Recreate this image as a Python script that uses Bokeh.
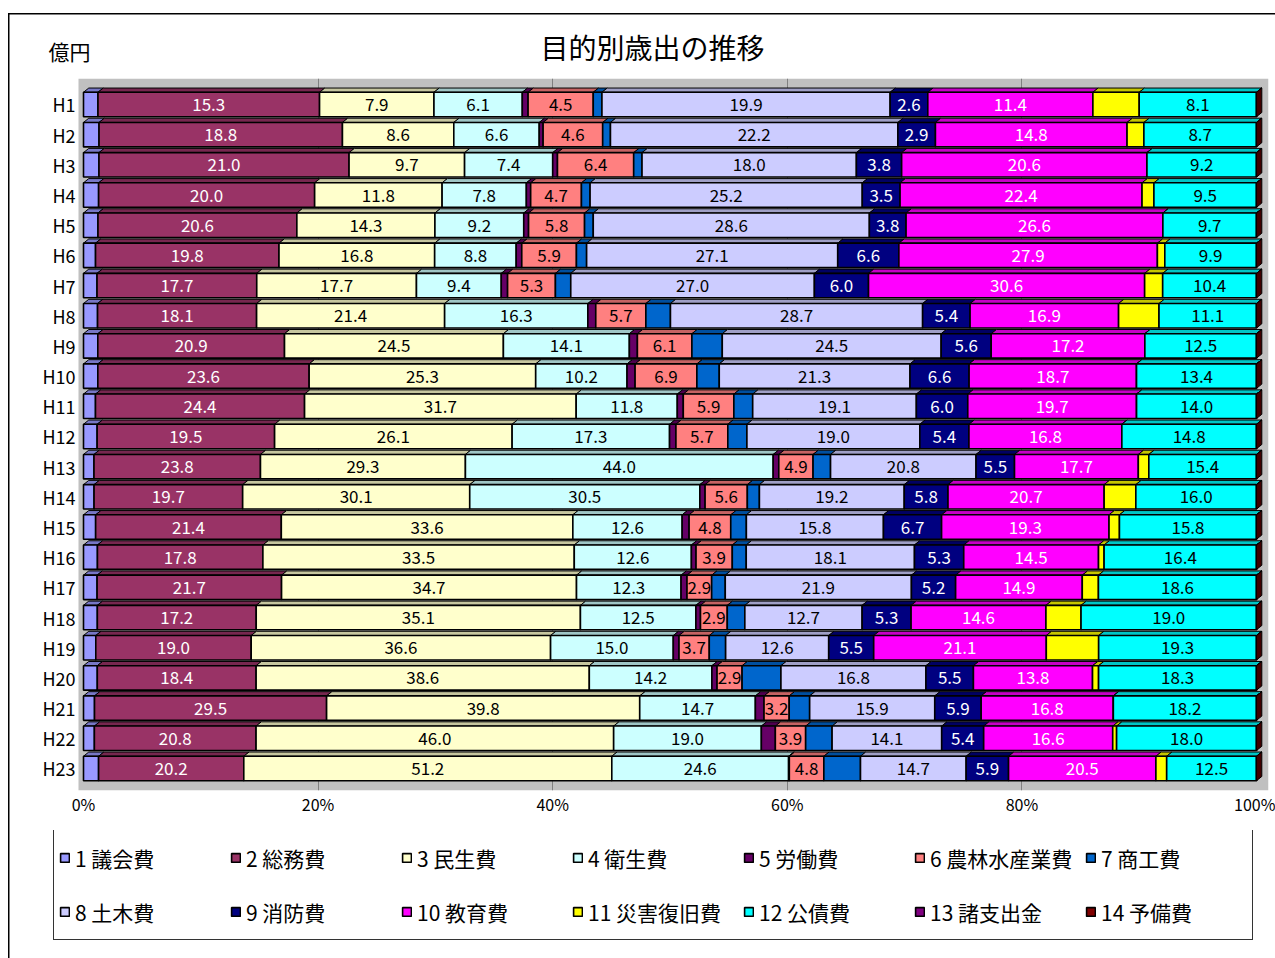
from bokeh.plotting import figure
from bokeh.layouts import column
from bokeh.models import (ColumnDataSource, Range1d, FixedTicker, Legend, LegendItem, BoxAnnotation)
from bokeh.core.properties import value
from bokeh.embed import file_html
from bokeh.resources import INLINE

FONT = "Noto Sans CJK JP"

years = ["H1", "H2", "H3", "H4", "H5", "H6", "H7", "H8", "H9", "H10", "H11", "H12",
         "H13", "H14", "H15", "H16", "H17", "H18", "H19", "H20", "H21", "H22", "H23"]

names = ["1 議会費", "2 総務費", "3 民生費", "4 衛生費", "5 労働費", "6 農林水産業費", "7 商工費",
         "8 土木費", "9 消防費", "10 教育費", "11 災害復旧費", "12 公債費", "13 諸支出金", "14 予備費"]

colors = ["#9999FF", "#993366", "#FFFFCC", "#CCFFFF", "#660066", "#FF8080", "#0066CC",
          "#CCCCFF", "#000080", "#FF00FF", "#FFFF00", "#00FFFF", "#800080", "#800000"]

TITLE = "目的別歳出の推移"
UNIT = "億円"

# 目的別歳出（億円）
gikai = [1.0, 1.2, 1.3, 1.4, 1.5, 1.3, 1.5, 1.6, 1.6, 1.6, 1.4, 1.5, 1.5, 1.4, 1.4, 1.5, 1.6, 1.5, 1.5, 1.6, 1.4, 1.4, 2.1]
somu = [15.3, 18.8, 21.0, 20.0, 20.6, 19.8, 17.7, 18.1, 20.9, 23.6, 24.4, 19.5, 23.8, 19.7, 21.4, 17.8, 21.7, 17.2, 19.0, 18.4, 29.5, 20.8, 20.2]
minsei = [7.9, 8.6, 9.7, 11.8, 14.3, 16.8, 17.7, 21.4, 24.5, 25.3, 31.7, 26.1, 29.3, 30.1, 33.6, 33.5, 34.7, 35.1, 36.6, 38.6, 39.8, 46.0, 51.2]
eisei = [6.1, 6.6, 7.4, 7.8, 9.2, 8.8, 9.4, 16.3, 14.1, 10.2, 11.8, 17.3, 44.0, 30.5, 12.6, 12.6, 12.3, 12.5, 15.0, 14.2, 14.7, 19.0, 24.6]
rodo = [0.4, 0.3, 0.4, 0.4, 0.5, 0.6, 0.7, 0.9, 0.9, 0.9, 0.7, 0.7, 0.8, 0.7, 0.8, 0.5, 0.7, 0.5, 0.7, 0.6, 1.1, 1.8, 0.1]
norin = [4.5, 4.6, 6.4, 4.7, 5.8, 5.9, 5.3, 5.7, 6.1, 6.9, 5.9, 5.7, 4.9, 5.6, 4.8, 3.9, 2.9, 2.9, 3.7, 2.9, 3.2, 3.9, 4.8]
shoko = [0.6, 0.6, 0.7, 0.8, 0.9, 1.1, 1.7, 2.8, 3.4, 2.5, 2.2, 2.1, 2.5, 1.6, 1.8, 1.5, 1.6, 1.9, 2.0, 4.5, 2.6, 3.4, 5.1]
doboku = [19.9, 22.2, 18.0, 25.2, 28.6, 27.1, 27.0, 28.7, 24.5, 21.3, 19.1, 19.0, 20.8, 19.2, 15.8, 18.1, 21.9, 12.7, 12.6, 16.8, 15.9, 14.1, 14.7]
shobo = [2.6, 2.9, 3.8, 3.5, 3.8, 6.6, 6.0, 5.4, 5.6, 6.6, 6.0, 5.4, 5.5, 5.8, 6.7, 5.3, 5.2, 5.3, 5.5, 5.5, 5.9, 5.4, 5.9]
kyoiku = [11.4, 14.8, 20.6, 22.4, 26.6, 27.9, 30.6, 16.9, 17.2, 18.7, 19.7, 16.8, 17.7, 20.7, 19.3, 14.5, 14.9, 14.6, 21.1, 13.8, 16.8, 16.6, 20.5]
saigai = [3.2, 1.3, 0.0, 1.1, 0.0, 0.8, 2.0, 4.6, 0.0, 0.0, 0.0, 0.0, 1.5, 4.2, 1.2, 0.6, 1.9, 3.8, 6.4, 0.7, 0.0, 0.5, 1.5]
kosai = [8.1, 8.7, 9.2, 9.5, 9.7, 9.9, 10.4, 11.1, 12.5, 13.4, 14.0, 14.8, 15.4, 16.0, 15.8, 16.4, 18.6, 19.0, 19.3, 18.3, 18.2, 18.0, 12.5]
shoshishutsu = [0.0] * 23
yobi = [0.0] * 23

series = [gikai, somu, minsei, eisei, rodo, norin, shoko,
          doboku, shobo, kyoiku, saigai, kosai, shoshishutsu, yobi]

# series that carry a value label, and the label colour on each
labelled = {1: "white", 2: "black", 3: "black", 5: "black", 7: "black",
            8: "white", 9: "white", 11: "black"}

n = len(years)
rows = list(range(n))
totals = [sum(s[i] for s in series) for i in rows]

BAR_H = 0.81          # front face height (row units)
DX, DY = 0.45, 0.14   # depth offset of the top / side faces
WALL_LEFT = -0.426    # left edge of the grey wall, in percent units
LEFT_BORDER = 53      # shared left border of the three stacked figures


def darker(hex_color, f=0.78):
    r, g, b = (int(hex_color[i:i + 2], 16) for i in (1, 3, 5))
    return "#%02x%02x%02x" % (int(r * f), int(g * f), int(b * f))


def bare(fig):
    fig.grid.visible = False
    fig.outline_line_color = None
    fig.border_fill_color = None
    fig.background_fill_color = None


# ---- heading strip: title and unit ----
head = figure(width=1275, height=78, x_range=Range1d(LEFT_BORDER, 1268), y_range=Range1d(78, 0),
              output_backend="svg", toolbar_location=None, title=None,
              min_border_left=LEFT_BORDER, min_border_right=7, min_border_top=0, min_border_bottom=0)
bare(head)
head.xaxis.visible = False
head.yaxis.ticker = FixedTicker(ticks=[50])
head.yaxis.major_label_overrides = {50: UNIT}
head.yaxis.axis_line_color = None
head.yaxis.major_tick_line_color = None
head.yaxis.major_tick_out = 0
head.yaxis.major_tick_in = 0
head.yaxis.minor_tick_line_color = None
head.yaxis.major_label_standoff = -37
head.yaxis.major_label_text_font = FONT
head.yaxis.major_label_text_font_size = "21px"
head.yaxis.major_label_text_color = "black"
head.text(x=[652], y=[46], text=[TITLE], text_align="center", text_baseline="middle",
          text_font=value(FONT), text_font_size="28px", text_color="black")

# ---- main chart ----
px_per_pct = 11.73
x_start = -(83 - LEFT_BORDER) / px_per_pct
p = figure(width=1275, height=752,
           x_range=Range1d(x_start, 101.02), y_range=Range1d(22.73, -0.861),
           output_backend="svg", toolbar_location=None, title=None,
           min_border_left=LEFT_BORDER, min_border_right=7, min_border_top=0, min_border_bottom=40)

p.background_fill_color = None
p.border_fill_color = None
p.outline_line_color = None
# grey back wall and floor, painted beneath the grid lines
p.add_layout(BoxAnnotation(left=WALL_LEFT, fill_color="#C0C0C0", fill_alpha=1,
                           line_color=None, level="image"))

cum = [0.0] * n
label_specs = []
for k, s in enumerate(series):
    pct = [s[i] / totals[i] * 100 for i in rows]
    left = cum[:]
    right = [left[i] + pct[i] for i in rows]
    cum = right
    top_y = [r - BAR_H / 2 for r in rows]
    xs = [[left[i], right[i], right[i] + DX, left[i] + DX] for i in rows]
    ys = [[top_y[i], top_y[i], top_y[i] - DY, top_y[i] - DY] for i in rows]
    src = ColumnDataSource(dict(y=rows, left=left, right=right, xs=xs, ys=ys,
                                mid=[(left[i] + right[i]) / 2 for i in rows],
                                txt=["%.1f" % v for v in s]))
    p.patches("xs", "ys", source=src, fill_color=darker(colors[k]),
              line_color="black", line_width=1)
    p.hbar(y="y", left="left", right="right", height=BAR_H, source=src,
           fill_color=colors[k], line_color="black", line_width=1.6)
    if k in labelled:
        label_specs.append((src, labelled[k]))

# right-hand side face of each bar
side_src = ColumnDataSource(dict(
    xs=[[cum[i], cum[i] + DX, cum[i] + DX, cum[i]] for i in rows],
    ys=[[r - BAR_H / 2, r - BAR_H / 2 - DY, r + BAR_H / 2 - DY, r + BAR_H / 2] for r in rows]))
p.patches("xs", "ys", source=side_src, fill_color=darker(colors[-1], 0.5),
          line_color="black", line_width=1)

for src, col in label_specs:
    p.text(x="mid", y="y", text="txt", source=src, text_align="center",
           text_baseline="middle", text_color=col, text_font=value(FONT),
           text_font_size="17px")

# axes
p.xaxis.ticker = FixedTicker(ticks=[0, 20, 40, 60, 80, 100])
p.xaxis.major_label_overrides = {t: "%d%%" % t for t in [0, 20, 40, 60, 80, 100]}
p.yaxis.ticker = FixedTicker(ticks=rows)
p.yaxis.major_label_overrides = {i: years[i] for i in rows}
for ax in (p.xaxis[0], p.yaxis[0]):
    ax.axis_line_color = None
    ax.major_tick_line_color = None
    ax.major_tick_out = 0
    ax.major_tick_in = 0
    ax.minor_tick_line_color = None
    ax.major_label_text_font = FONT
    ax.major_label_text_color = "black"
p.xaxis.major_label_text_font_size = "16px"
p.xaxis.major_label_standoff = 1
p.yaxis.major_label_text_font_size = "18px"
p.yaxis.major_label_standoff = -(78 - LEFT_BORDER) + 3

p.xgrid.ticker = FixedTicker(ticks=[20, 40, 60, 80])
p.xgrid.grid_line_color = "#808080"
p.ygrid.grid_line_color = None

# ---- legend strip ----
q = figure(width=1275, height=128, x_range=Range1d(0, 1), y_range=Range1d(0, 1),
           output_backend="svg", toolbar_location=None, title=None,
           min_border_left=LEFT_BORDER, min_border_right=0, min_border_top=0, min_border_bottom=0)
q.axis.visible = False
bare(q)

items = []
for k in range(len(series)):
    # swatch source sits outside the visible range; only its legend entry shows
    r = q.quad(left=[2], right=[3], bottom=[2], top=[3], fill_color=colors[k],
               line_color="black", line_width=1.6)
    items.append(LegendItem(label=names[k], renderers=[r]))

legend = Legend(items=items, orientation="horizontal", ncols=7, location=(0, 18), margin=0,
                padding=5, spacing=9, glyph_width=11, glyph_height=11,
                label_standoff=5, label_width=146, label_height=45,
                border_line_color="#333333", border_line_width=1, border_line_alpha=1,
                background_fill_color="white", background_fill_alpha=1,
                label_text_font=FONT, label_text_font_size="21px", label_text_color="black")
q.add_layout(legend)

# chart border along the top and left edges
page = column(head, p, q, spacing=0, styles={
    "box-shadow": "inset 8px 13px 0 0 white, inset 9.5px 14.5px 0 0 black",
    "background": "white"})

open("out.html", "w").write(file_html(page, INLINE))
